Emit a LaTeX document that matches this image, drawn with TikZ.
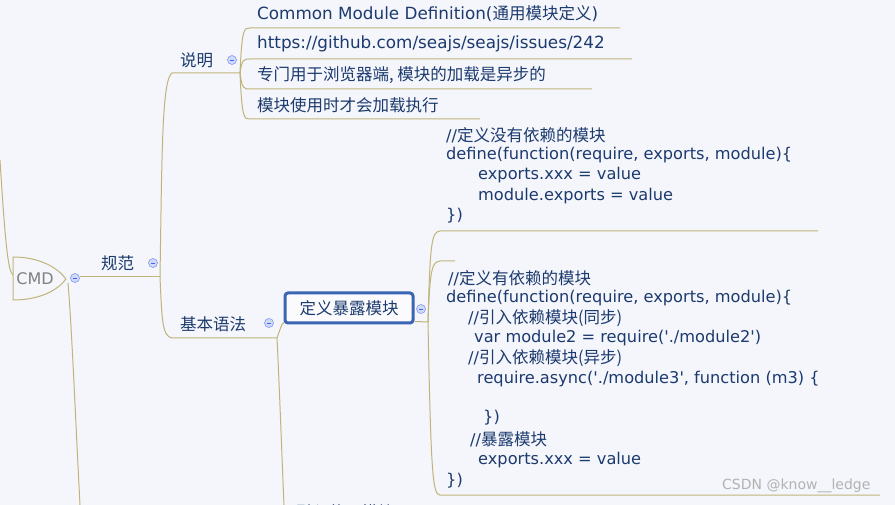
\documentclass[tikz,border=0pt]{standalone}
\usepackage{fontspec}
\setmainfont{DejaVu Sans}
\newfontfamily\qf{DejaVu Sans}
\newfontfamily\zhf{Noto Sans CJK SC}
\newcommand{\zh}[1]{{\zhf\fontsize{16.5}{18}\selectfont #1}}
\newcommand{\q}{{\qf '}}
\definecolor{bg}{RGB}{244,246,251}
\definecolor{tx}{RGB}{28,58,110}
\definecolor{ln}{RGB}{192,180,122}
\definecolor{bx}{RGB}{58,100,180}
\definecolor{cb}{RGB}{205,220,245}
\begin{document}
\begin{tikzpicture}[x=1pt,y=-1pt,
  lbl/.style={anchor=west,inner sep=0pt,text=tx,font=\fontsize{16.8}{18}\selectfont},
  code/.style={anchor=west,inner sep=0pt,text=tx,font=\fontsize{16.2}{17}\selectfont},
  br/.style={draw=ln,line width=1pt},
  col/.style={circle,draw=cb!60!blue,fill=cb,minimum size=9pt,inner sep=0pt,line width=0.5pt,
    path picture={\draw[cb!40!blue,line width=0.7pt] ([xshift=-2pt]path picture bounding box.center) -- ([xshift=2pt]path picture bounding box.center);}}]
\fill[bg] (0,0) rectangle (895,505);
\clip (0,0) rectangle (895,505);
% CMD
\draw[br,fill=bg] (13,257) .. controls (40,257) and (58,268) .. (66,279) .. controls (58,290) and (40,300) .. (13,300) -- cycle;
\node[anchor=center,text=gray,font=\fontsize{16}{18}\selectfont] (cmd) at (35,279) {CMD};
\draw[br] (0,160) .. controls (5,240) and (8,272) .. (13,275);
\draw[br] (68,283) .. controls (72,330) and (76,430) .. (80,505);
\node[col] (c0) at (75,278) {};
% 规范
\node[lbl] (gf) at (101,263) {\zh{规范}};
\node[col] (c1) at (153,263) {};
\draw[br] (80,277) -- (160,277);
\draw[br] (160,277) .. controls (162,150) and (162,80) .. (172,73) -- (240,73);
\draw[br] (160,277) .. controls (162,320) and (162,336) .. (172,338) -- (277,338);
% 说明
\node[lbl] (sm) at (180,60) {\zh{说明}};
\node[col] (c2) at (232,60) {};
\foreach \y/\e in {28/620,59/632,89/592,119/480}{
  \draw[br] (240,73) .. controls (242,\y) and (244,\y) .. (250,\y) -- (\e,\y);
}
\node[lbl] (s1) at (257,14) {Common Module Definition(\zh{通用模块定义})};
\node[lbl] (s2) at (257,44) {https://github.com/seajs/seajs/issues/242};
\node[lbl] (s3) at (257,75) {\zh{专门用于浏览器端, 模块的加载是异步的}};
\node[lbl] (s4) at (257,105) {\zh{模块使用时才会加载执行}};
% 基本语法
\node[lbl] (jb) at (180,324) {\zh{基本语法}};
\node[col] (c3) at (269,323) {};
\draw[br] (277,338) .. controls (280,330) and (281,325) .. (284,322);
\draw[br] (277,338) .. controls (280,400) and (282,460) .. (284,505);
\node[anchor=west,text=tx] (yr) at (292,512) {\zh{引入使用模块}};
\node[draw=bx,line width=3pt,rounded corners=3pt,anchor=center,text=tx,minimum width=128pt,minimum height=30pt,fill=white!60!bg] (dy) at (349,308) {\zh{定义暴露模块}};
\node[col] (c4) at (421,309) {};
\draw[br] (dy.south east) ++(0,-3) -- (428,322);
\draw[br] (428,322) .. controls (430,240) and (432,232) .. (440,231) -- (818,231);
\draw[br] (428,322) .. controls (430,268) and (432,262) .. (440,261) -- (455,261);
\draw[br] (428,322) .. controls (431,480) and (433,494) .. (440,495) -- (880,495);
% code 1
\node[code] (a1) at (446,135) {//\zh{定义没有依赖的模块}};
\node[code] (a2) at (446,155) {define(function(require, exports, module)\{};
\node[code] (a3) at (478,175) {exports.xxx = value};
\node[code] (a4) at (478,196) {module.exports = value};
\node[code] (a5) at (446,216) {\})};
% code 2
\node[code] (b1) at (448,278) {//\zh{定义有依赖的模块}};
\node[code] (b2) at (446,298) {define(function(require, exports, module)\{};
\node[code] (b3) at (468,318) {//\zh{引入依赖模块(同步)}};
\node[code] (b4) at (474,338) {var module2 = require(\q./module2\q)};
\node[code] (b5) at (468,358) {//\zh{引入依赖模块(异步)}};
\node[code] (b6) at (477,379) {require.async(\q./module3\q, function (m3) \{};
\node[code] (b7) at (483,418) {\})};
\node[code] (b8) at (470,439) {//\zh{暴露模块}};
\node[code] (b9) at (478,460) {exports.xxx = value};
\node[code] (b10) at (446,481) {\})};
\node[anchor=west,inner sep=0pt,text=gray!60,font=\fontsize{14}{16}\selectfont] (wm) at (722,486) {CSDN @know\_\_ledge};
\end{tikzpicture}
\end{document}
